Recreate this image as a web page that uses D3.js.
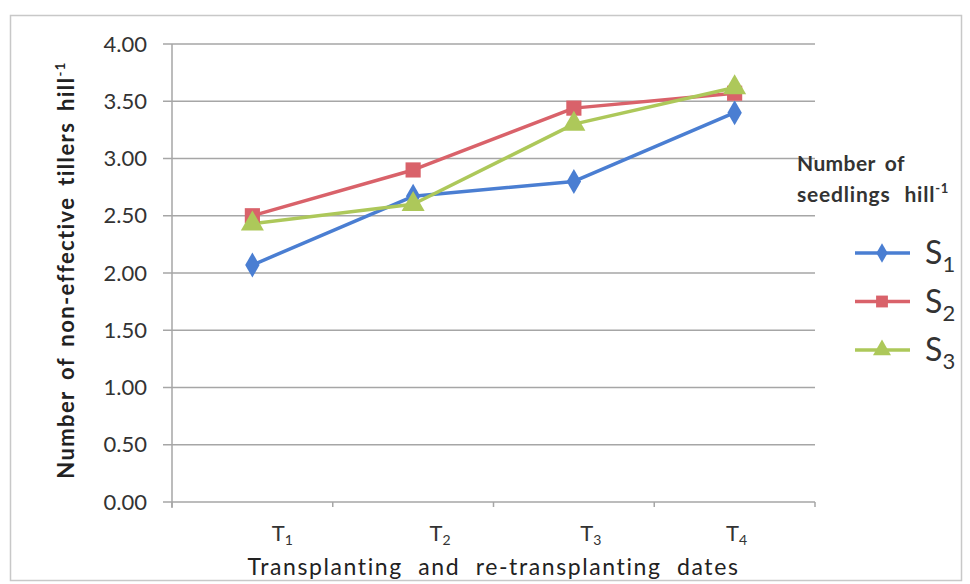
<!DOCTYPE html>
<html>
<head>
<meta charset="utf-8">
<script src="https://cdn.jsdelivr.net/npm/d3@7/dist/d3.min.js"></script>
<style>
  html, body { margin: 0; padding: 0; background: #fff; }
  svg { display: block; font-family: Lato, "Open Sans", sans-serif; }
</style>
</head>
<body>
<svg id="chart" width="970" height="584"></svg>
<script>
// Transplanting dates (T1..T4) and non-effective tillers per hill for each seedling count
const dates = ["1", "2", "3", "4"];            // subscripts of T
const seriesNames = ["1", "2", "3"];           // subscripts of S
const s1 = [2.07, 2.67, 2.80, 3.40];
const s2 = [2.50, 2.90, 3.44, 3.57];
const s3 = [2.43, 2.60, 3.30, 3.62];
const yTicks = [0, 0.5, 1, 1.5, 2, 2.5, 3, 3.5, 4];

const colors = ["#4a7ed2", "#d9626a", "#adc85a"];
const shapes = [d3.symbolDiamond, d3.symbolSquare, d3.symbolTriangle];
const series = [s1, s2, s3];

const svg = d3.select("#chart");

// outer frame
svg.append("rect")
  .attr("x", 10.5).attr("y", 15.5).attr("width", 951).attr("height", 565)
  .attr("fill", "#fff").attr("stroke", "#c8c8c8").attr("stroke-width", 1.5);

const plotL = 172, plotR = 815, plotT = 44, plotB = 502;

const x = d3.scaleBand().domain(dates).range([plotL, plotR]).paddingInner(0).paddingOuter(0);
const y = d3.scaleLinear().domain([0, 4]).range([plotB, plotT]);

// horizontal gridlines
svg.append("g").selectAll("line").data(yTicks).join("line")
  .attr("x1", plotL - 9).attr("x2", plotR)
  .attr("y1", d => y(d)).attr("y2", d => y(d))
  .attr("stroke", "#a6a6a6").attr("stroke-width", 1.5);

// y axis
const yAxis = svg.append("g")
  .attr("transform", `translate(${plotL},0)`)
  .call(d3.axisLeft(y).tickValues(yTicks).tickFormat(d3.format(".2f"))
    .tickSize(0).tickPadding(25));
yAxis.select(".domain").remove();
yAxis.selectAll("text")
  .attr("fill", "#333").attr("font-size", 22).attr("font-family", "Lato, sans-serif");
svg.append("line")
  .attr("x1", plotL).attr("x2", plotL).attr("y1", plotT).attr("y2", plotB + 6)
  .attr("stroke", "#a6a6a6").attr("stroke-width", 1.5);

// x axis boundary ticks
const bounds = dates.map(d => x(d)).concat([plotR]);
svg.append("g").selectAll("line").data(bounds).join("line")
  .attr("x1", d => d).attr("x2", d => d)
  .attr("y1", plotB).attr("y2", plotB + 5)
  .attr("stroke", "#a6a6a6").attr("stroke-width", 1.5);

// x tick labels (T with subscript), nudged right as in the original layout
const labelShift = [30, 27, 17, 2];
const xl = svg.append("g").selectAll("text").data(dates).join("text")
  .attr("x", (d, i) => x(d) + x.bandwidth() / 2 + labelShift[i])
  .attr("y", 541)
  .attr("text-anchor", "middle")
  .attr("fill", "#333").attr("font-size", 22);
xl.append("tspan").text("T");
xl.append("tspan").attr("font-size", 14).attr("dy", 4).text(d => d);

// x axis title
svg.append("text")
  .attr("x", (plotL + plotR) / 2).attr("y", 575)
  .attr("text-anchor", "middle")
  .attr("fill", "#222").attr("font-size", 23)
  .attr("letter-spacing", 1.6).attr("word-spacing", 8)
  .text("Transplanting and re-transplanting dates");

// y axis title
const yt = svg.append("text")
  .attr("transform", `translate(74,270) rotate(-90)`)
  .attr("text-anchor", "middle")
  .attr("fill", "#222").attr("font-size", 22).attr("font-weight", "bold")
  .attr("letter-spacing", 1.4).attr("word-spacing", 4);
yt.append("tspan").text("Number of non-effective tillers  hill");
yt.append("tspan").attr("font-size", 13).attr("dy", -9).text("-1");

// series lines and markers
const line = d3.line().x((d, i) => x(dates[i]) + x.bandwidth() / 2).y(d => y(d));
series.forEach((vals, si) => {
  svg.append("path").datum(vals)
    .attr("d", line).attr("fill", "none")
    .attr("stroke", colors[si]).attr("stroke-width", 3.5)
    .attr("stroke-linejoin", "round");
});
series.forEach((vals, si) => {
  const sym = d3.symbol().type(shapes[si]).size(si === 0 ? 180 : 230);
  svg.append("g").selectAll("path").data(vals).join("path")
    .attr("transform", (d, i) => `translate(${x(dates[i]) + x.bandwidth() / 2},${y(d)})`)
    .attr("d", sym).attr("fill", colors[si]);
});

// legend
const lg = svg.append("g");
lg.append("text").attr("x", 797).attr("y", 171)
  .attr("fill", "#333").attr("font-size", 21).attr("font-weight", "bold")
  .attr("letter-spacing", 0.4).attr("word-spacing", 4).text("Number of");
const lt2 = lg.append("text").attr("x", 797).attr("y", 202)
  .attr("fill", "#333").attr("font-size", 21).attr("font-weight", "bold")
  .attr("letter-spacing", 0.8).attr("word-spacing", 8);
lt2.append("tspan").text("seedlings hill");
lt2.append("tspan").attr("font-size", 13).attr("dy", -9).text("-1");

const legendY = d3.scalePoint().domain(seriesNames).range([253, 350]);
seriesNames.forEach((n, si) => {
  const cy = legendY(n);
  lg.append("line").attr("x1", 855).attr("x2", 910).attr("y1", cy).attr("y2", cy)
    .attr("stroke", colors[si]).attr("stroke-width", 3.5);
  lg.append("path").attr("transform", `translate(882,${cy})`)
    .attr("d", d3.symbol().type(shapes[si]).size(si === 0 ? 110 : 140)())
    .attr("fill", colors[si]);
  const t = lg.append("text").attr("x", 925).attr("y", cy + 11)
    .attr("fill", "#333").attr("font-size", 32);
  t.append("tspan").text("S");
  t.append("tspan").attr("font-size", 22).attr("dy", 8).text(n);
});
</script>
</body>
</html>
